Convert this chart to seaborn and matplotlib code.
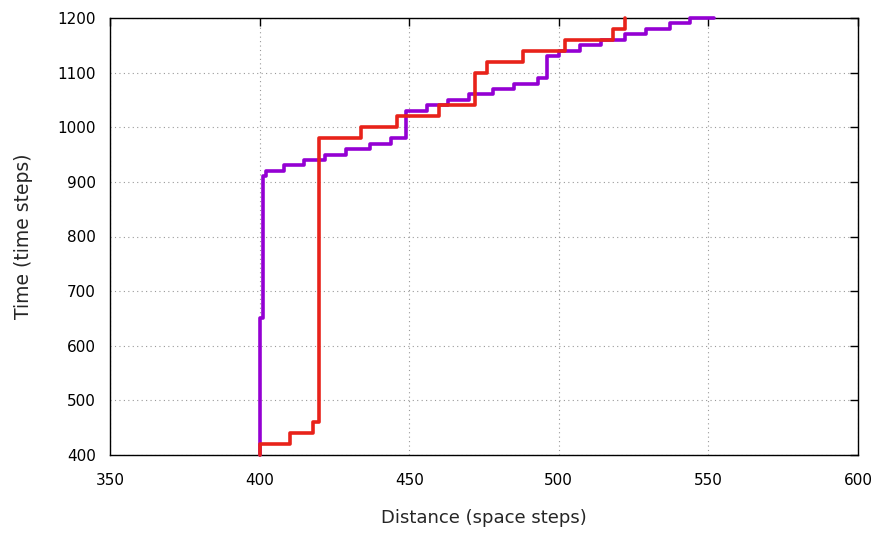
import matplotlib
matplotlib.use("Agg")
import matplotlib.pyplot as plt
import seaborn as sns
import pandas as pd

# Purple series (distance, time) vertices, step-post style
purple_x = [400, 400, 401, 402, 408, 415, 422, 429, 437, 444, 449, 456, 463, 470,
            478, 485, 493, 496, 500, 507, 514, 522, 529, 537, 544, 552]
purple_y = [400, 650, 910, 920, 930, 940, 950, 960, 970, 980, 1030, 1040, 1050, 1060,
            1070, 1080, 1090, 1130, 1140, 1150, 1160, 1170, 1180, 1190, 1200, 1200]

# Red series
red_x = [400, 400, 410, 418, 420, 434, 446, 460, 472, 476, 488, 502, 518, 522]
red_y = [400, 420, 440, 460, 980, 1000, 1020, 1040, 1100, 1120, 1140, 1160, 1180, 1200]

x_ticks = [350, 400, 450, 500, 550, 600]
y_ticks = [400, 500, 600, 700, 800, 900, 1000, 1100, 1200]

sns.set_style("white")
plt.rcParams['font.family'] = ['DejaVu Sans']

fig = plt.figure(figsize=(8.83, 5.33), dpi=100)
ax = fig.add_axes([110 / 883, 78 / 533, 748 / 883, 437 / 533])

df_p = pd.DataFrame({"x": purple_x, "y": purple_y})
df_r = pd.DataFrame({"x": red_x, "y": red_y})

sns.lineplot(data=df_p, x="x", y="y", ax=ax, estimator=None, sort=False,
             drawstyle="steps-post", color="#9400d3", linewidth=2.6, zorder=3,
             clip_on=False)
sns.lineplot(data=df_r, x="x", y="y", ax=ax, estimator=None, sort=False,
             drawstyle="steps-post", color="#e8221a", linewidth=2.6, zorder=4,
             clip_on=False)

ax.set_xlim(350, 600)
ax.set_ylim(400, 1200)
ax.set_xticks(x_ticks)
ax.set_yticks(y_ticks)
ax.set_xticklabels([str(v) for v in x_ticks], fontsize=11)
ax.set_yticklabels([str(v) for v in y_ticks], fontsize=11)
ax.grid(True, color="#999999", linestyle=(0, (1, 3)), linewidth=0.8)
ax.tick_params(direction="in", length=6, width=1, top=True, right=True,
               colors="black")
ax.tick_params(axis="x", pad=13)
ax.tick_params(axis="y", pad=10)
for s in ax.spines.values():
    s.set_visible(True)
    s.set_color("black")
    s.set_linewidth(1)

ax.set_xlabel("Distance (space steps)", fontsize=13, labelpad=15)
ax.set_ylabel("Time (time steps)", fontsize=13.5, labelpad=18)

fig.savefig("out.png", dpi=100)
